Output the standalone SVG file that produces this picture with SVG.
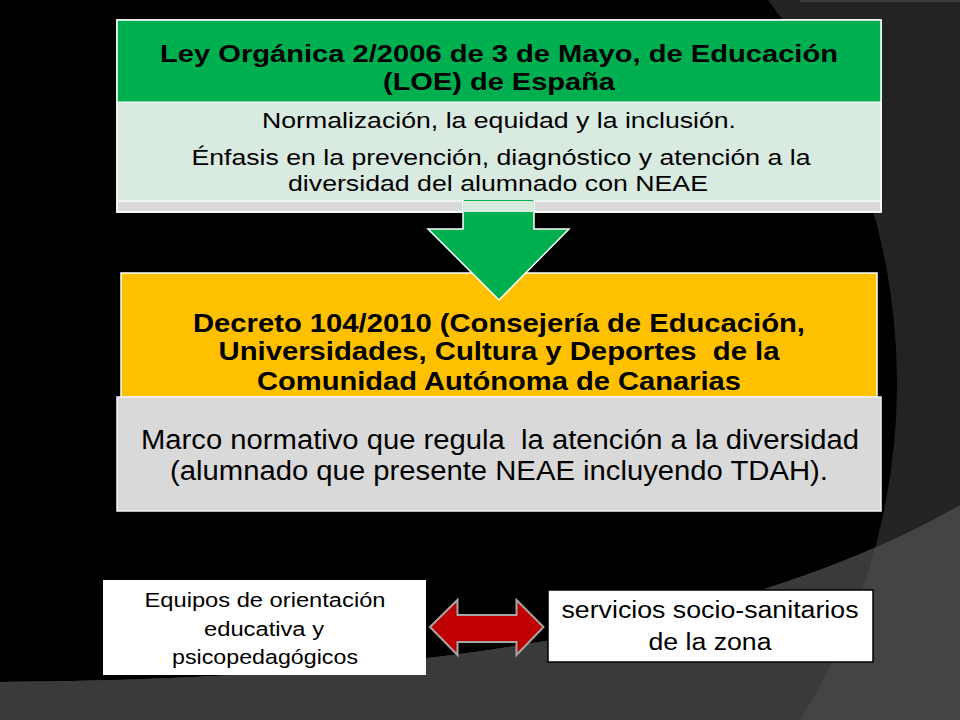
<svg xmlns="http://www.w3.org/2000/svg" width="960" height="720" viewBox="0 0 960 720">
  <style>
    .t { font-family: "Liberation Sans", Arial, sans-serif; fill: #000; text-anchor: middle; }
    .b { font-weight: bold; }
    .box { stroke: #ffffff; stroke-width: 1.5; }
  </style>
  <defs>
    <clipPath id="circ"><circle cx="264" cy="383" r="633"/></clipPath>
  </defs>
  <g id="background">
    <rect x="0" y="0" width="960" height="720" fill="#232323"/>
    <circle cx="264" cy="383" r="633" fill="#000000"/>
    <path d="M0,682 C300,680 700,655 960,505 L960,720 L0,720 Z" fill="#444444"/>
    <path d="M0,682 C300,680 700,655 960,505 L960,720 L0,720 Z" fill="#3a3a3a" clip-path="url(#circ)"/>
    <rect x="800" y="0" width="160" height="2" fill="#3a3a3a"/>
  </g>
  <g id="node-loe">
    <rect x="117" y="20" width="764" height="192" fill="#d9d9d9" class="box"/>
    <rect x="117" y="20" width="764" height="182" fill="#d9eae1"/>
    <rect x="117" y="20" width="764" height="82" fill="#00b050"/>
    <rect x="117" y="20" width="764" height="192" fill="none" class="box"/>
    <line x1="117" y1="102" x2="881" y2="102" stroke="#ffffff" stroke-width="1"/>
    <line x1="117" y1="201" x2="881" y2="201" stroke="#ffffff" stroke-width="1"/>
    <text class="t b" x="499" y="62" font-size="24" textLength="678" lengthAdjust="spacingAndGlyphs">Ley Orgánica 2/2006 de 3 de Mayo, de Educación</text>
    <text class="t b" x="499" y="90" font-size="24" textLength="232" lengthAdjust="spacingAndGlyphs">(LOE) de España</text>
    <text class="t" x="499" y="128" font-size="22.5" textLength="474" lengthAdjust="spacingAndGlyphs">Normalización, la equidad y la inclusión.</text>
    <text class="t" x="501" y="165" font-size="22.5" textLength="619" lengthAdjust="spacingAndGlyphs">Énfasis en la prevención, diagnóstico y atención a la</text>
    <text class="t" x="498" y="191" font-size="22.5" textLength="420" lengthAdjust="spacingAndGlyphs">diversidad del alumnado con NEAE</text>
  </g>
  <g id="node-decreto">
    <rect x="121" y="273" width="756" height="124" fill="#ffc000" class="box"/>
    <text class="t b" x="499" y="332" font-size="25.5" textLength="612" lengthAdjust="spacingAndGlyphs">Decreto 104/2010 (Consejería de Educación,</text>
    <text class="t b" x="499" y="360" font-size="25.5" textLength="561" lengthAdjust="spacingAndGlyphs" xml:space="preserve">Universidades, Cultura y Deportes  de la</text>
    <text class="t b" x="499" y="390" font-size="25.5" textLength="484" lengthAdjust="spacingAndGlyphs">Comunidad Autónoma de Canarias</text>
  </g>
  <g id="node-marco">
    <rect x="117" y="397" width="764" height="114" fill="#d9d9d9" stroke="#f2f2f2" stroke-width="1.5"/>
    <text class="t" x="500" y="449" font-size="27" textLength="718" lengthAdjust="spacingAndGlyphs" xml:space="preserve">Marco normativo que regula  la atención a la diversidad</text>
    <text class="t" x="499" y="480" font-size="27" textLength="658" lengthAdjust="spacingAndGlyphs">(alumnado que presente NEAE incluyendo TDAH).</text>
  </g>
  <g id="node-equipos">
    <rect x="103" y="580" width="323" height="95" fill="#ffffff"/>
    <text class="t" x="265" y="607" font-size="20" textLength="241" lengthAdjust="spacingAndGlyphs">Equipos de orientación</text>
    <text class="t" x="264" y="636" font-size="20" textLength="120" lengthAdjust="spacingAndGlyphs">educativa y</text>
    <text class="t" x="265" y="664" font-size="20" textLength="186" lengthAdjust="spacingAndGlyphs">psicopedagógicos</text>
  </g>
  <g id="node-servicios">
    <rect x="548" y="590" width="325" height="72" fill="#ffffff" stroke="#000000" stroke-width="1.5"/>
    <text class="t" x="710" y="618" font-size="23" textLength="297" lengthAdjust="spacingAndGlyphs">servicios socio-sanitarios</text>
    <text class="t" x="710" y="650" font-size="23" textLength="123" lengthAdjust="spacingAndGlyphs">de la zona</text>
  </g>
  <g id="connectors">
    <path d="M463,200 L534,200 L534,212 L463,212 Z" fill="#d9eae1"/>
    <path d="M463,200 L463,229 L428,229 L499,300 L569,229 L534,229 L534,200" fill="#00b050" stroke="#ffffff" stroke-width="1.5" stroke-linejoin="miter"/>
    <path d="M463.8,201 L533.2,201 L533.2,212 L463.8,212 Z" fill="#d9eae1"/>
    <path d="M430,627 L457.5,600 L457.5,615 L516.5,615 L516.5,600 L543.5,627 L516.5,655 L516.5,642 L457.5,642 L457.5,655 Z" fill="#c00000" stroke="#a6a6a6" stroke-width="2"/>
  </g>
</svg>
